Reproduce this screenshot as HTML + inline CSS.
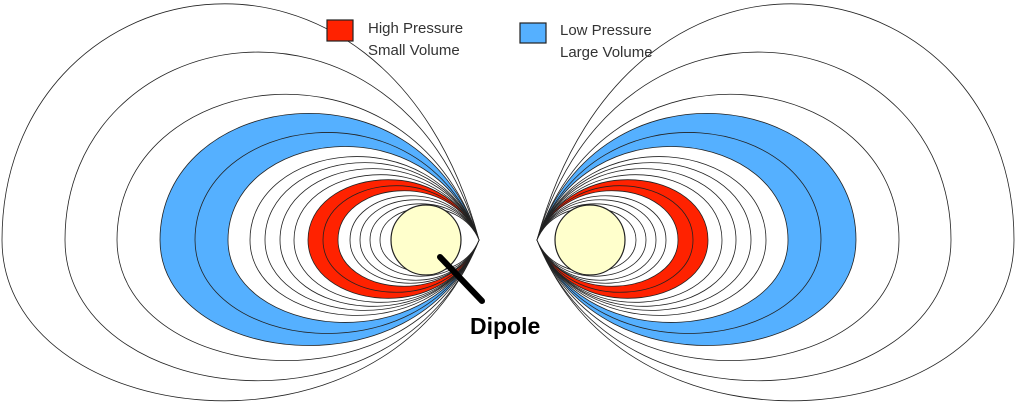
<!DOCTYPE html>
<html><head><meta charset="utf-8"><style>
html,body{margin:0;padding:0;background:#fff;width:1020px;height:405px;overflow:hidden}
svg{display:block}
text{font-family:"Liberation Sans",sans-serif;fill:#333}
</style></head><body>
<svg id="s" width="1020" height="405" viewBox="0 0 1020 405" xmlns="http://www.w3.org/2000/svg">
<g id="L"></g>
<g id="R" transform="translate(1016,0) scale(-1,1)"></g>
<circle cx="426" cy="240" r="35" fill="#ffffcc" stroke="#222" stroke-width="1.2"/>
<circle cx="590" cy="240" r="35" fill="#ffffcc" stroke="#222" stroke-width="1.2"/>
<line x1="440" y1="257" x2="482" y2="301" stroke="#000" stroke-width="6" stroke-linecap="round"/>
<text x="470" y="334" font-size="23" font-weight="bold" style="fill:#000">Dipole</text>
<rect x="327" y="20" width="26" height="21" fill="#ff2200" stroke="#222" stroke-width="1.2"/>
<text x="368" y="33" font-size="15">High Pressure</text>
<text x="368" y="55" font-size="15">Small Volume</text>
<rect x="520" y="23" width="26" height="20" fill="#55b0ff" stroke="#222" stroke-width="1.2"/>
<text x="560" y="35" font-size="15">Low Pressure</text>
<text x="560" y="57" font-size="15">Large Volume</text>
</svg>
<script>
var loops=[[2,5,400,'none'],[65,53,380,'#fff'],[117,95,360,'#fff'],[160,114,345,'#55b0ff'],[195,133,333,'#55b0ff'],[228,147,322,'#fff'],[250,157,315,'#fff'],[265,163,310,'#fff'],[280,169,306,'#fff'],[294,175,302,'#fff'],[308,180,298,'#ff2200'],[323,186,292,'#ff2200'],[338,191,286,'#fff'],[350,196,283,'#fff'],[360,200,280,'#fff'],[370,204,276,'#fff'],[380,208,272,'#fff']];
var ax=479,ay=240,h='';
loops.forEach(function(l){var L=l[0],Ht=ay-l[1],Hb=l[2]-ay,W=ax-L;
var d='M'+ax+','+ay+' C'+(ax-0.2*W)+','+(ay-1.5*Ht)+' '+L+','+(ay-1.17*Ht)+' '+L+','+ay+' C'+L+','+(ay+1.17*Hb)+' '+(ax-0.2*W)+','+(ay+1.5*Hb)+' '+ax+','+ay+'Z';
h+='<path d="'+d+'" fill="'+l[3]+'" stroke="#222" stroke-width="0.8"/>';});
document.getElementById('L').innerHTML=h;document.getElementById('R').innerHTML=h;
</script>
</body></html>
